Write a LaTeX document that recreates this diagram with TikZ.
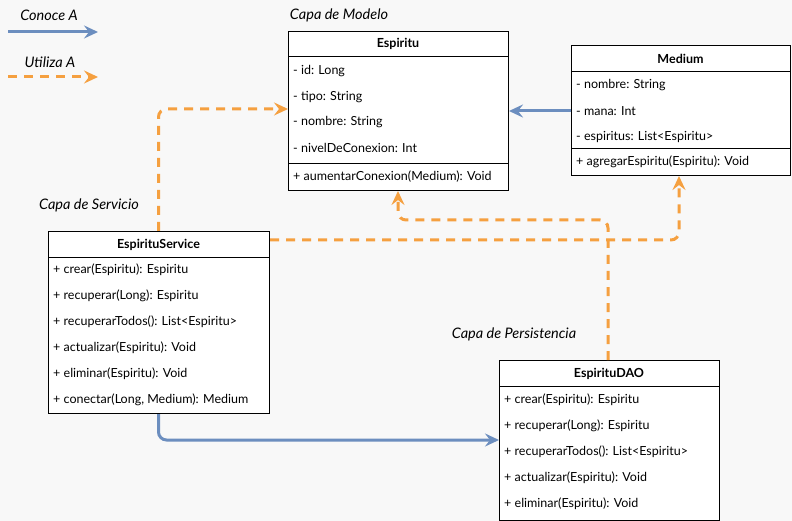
\documentclass[tikz,border=0pt]{standalone}
\usepackage{fontspec}
\setmainfont{Lato}
\usetikzlibrary{arrows.meta}
\definecolor{bg}{HTML}{F8F8F8}
\definecolor{cblue}{HTML}{6C8EBF}
\definecolor{corange}{HTML}{F5A040}
\tikzset{
  classbox/.style={draw=black, fill=white, line width=1pt, anchor=north west, inner sep=0pt},
  rowtxt/.style={anchor=west, inner sep=0pt, font=\fontsize{12.5}{14}\selectfont},
  headtxt/.style={inner sep=0pt, font=\fontsize{12.5}{14}\selectfont\bfseries},
  layertxt/.style={inner sep=0pt, font=\fontsize{14.5}{16}\selectfont\itshape},
  sepline/.style={draw=black, line width=1pt},
  tipc/.style={-{Stealth[length=14pt,width=13pt,inset=5pt]}},
  conoce/.style={draw=cblue, line width=3pt, tipc, rounded corners=8pt},
  utiliza/.style={draw=corange, line width=3pt, tipc, dash pattern=on 9pt off 7pt, rounded corners=8pt},
}
\begin{document}
\begin{tikzpicture}[x=1pt,y=-1pt]
\fill[bg] (0,0) rectangle (792,521);
\useasboundingbox (0,0) rectangle (792,521);

% legend
\node[layertxt] (lgc) at (49,15) {Conoce A};
\coordinate (lgc1) at (8,32);
\coordinate (lgc2) at (98,32);
\draw[conoce] (lgc1) -- (lgc2);
\node[layertxt] (lgu) at (50,62) {Utiliza A};
\coordinate (lgu1) at (8,77);
\coordinate (lgu2) at (98,77);
\draw[utiliza] (lgu1) -- (lgu2);

% layer labels
\node[layertxt] (lmod) at (339,15) {Capa de Modelo};
\node[layertxt] (lser) at (89,205) {Capa de Servicio};
\node[layertxt] (lper) at (514,334) {Capa de Persistencia};

% Espiritu
\node[classbox, minimum width=220pt, minimum height=159pt] (esp) at (288,31) {};
\node[headtxt] (esph) at (398,44) {Espiritu};
\draw[sepline] (288,57) -- (508,57);
\draw[sepline] (288,164) -- (508,164);
\node[rowtxt] (esp1) at (293,71) {- id: Long};
\node[rowtxt] (esp2) at (293,97) {- tipo: String};
\node[rowtxt] (esp3) at (293,122) {- nombre: String};
\node[rowtxt] (esp4) at (293,148) {- nivelDeConexion: Int};
\node[rowtxt] (esp5) at (293,177) {+ aumentarConexion(Medium): Void};

% Medium
\node[classbox, minimum width=219pt, minimum height=130pt] (med) at (571,45) {};
\node[headtxt] (medh) at (680.5,58.5) {Medium};
\draw[sepline] (571,72) -- (790,72);
\draw[sepline] (571,149) -- (790,149);
\node[rowtxt] (med1) at (576,85) {- nombre: String};
\node[rowtxt] (med2) at (576,111) {- mana: Int};
\node[rowtxt] (med3) at (576,137) {- espiritus: List<Espiritu>};
\node[rowtxt] (med4) at (576,162) {+ agregarEspiritu(Espiritu): Void};

% EspirituService
\node[classbox, minimum width=221pt, minimum height=182pt] (srv) at (48,231) {};
\node[headtxt] (srvh) at (158.5,244.5) {EspirituService};
\draw[sepline] (48,258) -- (269,258);
\node[rowtxt] (srv1) at (53,270) {+ crear(Espiritu): Espiritu};
\node[rowtxt] (srv2) at (53,296) {+ recuperar(Long): Espiritu};
\node[rowtxt] (srv3) at (53,322) {+ recuperarTodos(): List<Espiritu>};
\node[rowtxt] (srv4) at (53,348) {+ actualizar(Espiritu): Void};
\node[rowtxt] (srv5) at (53,374) {+ eliminar(Espiritu): Void};
\node[rowtxt] (srv6) at (53,400) {+ conectar(Long, Medium): Medium};

% EspirituDAO
\node[classbox, minimum width=220pt, minimum height=160pt] (dao) at (499,360) {};
\node[headtxt] (daoh) at (609,373.5) {EspirituDAO};
\draw[sepline] (499,386) -- (719,386);
\node[rowtxt] (dao1) at (504,400) {+ crear(Espiritu): Espiritu};
\node[rowtxt] (dao2) at (504,426) {+ recuperar(Long): Espiritu};
\node[rowtxt] (dao3) at (504,452) {+ recuperarTodos(): List<Espiritu>};
\node[rowtxt] (dao4) at (504,478) {+ actualizar(Espiritu): Void};
\node[rowtxt] (dao5) at (504,504) {+ eliminar(Espiritu): Void};

% connectors
\draw[conoce] (med.west |- 0,111) -- (esp.east |- 0,111);
\draw[conoce] (srv.south -| 158.5,0) -- (158.5,440) -- (dao.west |- 0,440);
\draw[utiliza] (srv.north -| 158.5,0) -- (158.5,109) -- (esp.west |- 0,109);
\draw[utiliza] (srv.east |- 0,240) -- (679,240) -- (med.south -| 679,0);
\draw[utiliza] (dao.north -| 608,0) -- (608,220) -- (398,220) -- (esp.south -| 398,0);
\end{tikzpicture}
\end{document}
